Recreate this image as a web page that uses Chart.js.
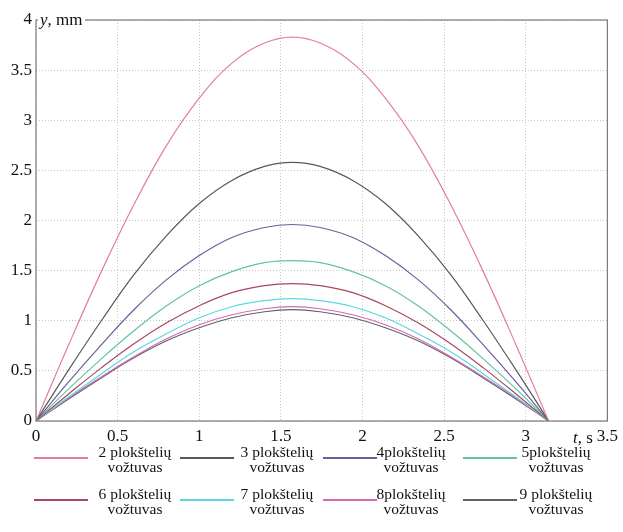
<!DOCTYPE html>
<html>
<head>
<meta charset="utf-8">
<script src="https://cdn.jsdelivr.net/npm/chart.js@4.4.1/dist/chart.umd.min.js"></script>
<style>
html,body{margin:0;padding:0;background:#fff;}
#wrap{position:relative;width:623px;height:532px;font-family:'Liberation Serif','Times New Roman',serif;color:#111;}
canvas{position:absolute;left:0;top:0;}
.lab{position:absolute;white-space:nowrap;font-size:17px;line-height:17px;}
.leg-line{position:absolute;height:2px;}
.leg-text{position:absolute;font-size:15.5px;line-height:15px;text-align:center;width:100px;}
</style>
</head>
<body>
<div id="wrap">
<canvas id="c" width="623" height="532"></canvas>
</div>
<script>
// time points (s)
const tValues = [0, 0.2, 0.4, 0.6, 0.8, 1.0, 1.2, 1.4, 1.57, 1.74, 1.94, 2.14, 2.34, 2.54, 2.74, 2.94, 3.14];
// displacement y (mm)
const y2 = [0, 0.76, 1.49, 2.16, 2.75, 3.22, 3.57, 3.77, 3.83, 3.77, 3.57, 3.22, 2.75, 2.16, 1.49, 0.76, 0];
const y3 = [0, 0.51, 1.00, 1.46, 1.85, 2.17, 2.40, 2.54, 2.58, 2.54, 2.40, 2.17, 1.85, 1.46, 1.00, 0.51, 0];
const y4 = [0, 0.39, 0.76, 1.11, 1.41, 1.65, 1.83, 1.93, 1.96, 1.93, 1.83, 1.65, 1.41, 1.11, 0.76, 0.39, 0];
const y5 = [0, 0.32, 0.62, 0.90, 1.15, 1.35, 1.49, 1.58, 1.60, 1.58, 1.49, 1.35, 1.15, 0.90, 0.62, 0.32, 0];
const y6 = [0, 0.27, 0.53, 0.77, 0.98, 1.15, 1.28, 1.35, 1.37, 1.35, 1.28, 1.15, 0.98, 0.77, 0.53, 0.27, 0];
const y7 = [0, 0.24, 0.47, 0.69, 0.87, 1.03, 1.14, 1.20, 1.22, 1.20, 1.14, 1.03, 0.87, 0.69, 0.47, 0.24, 0];
const y8 = [0, 0.23, 0.44, 0.64, 0.82, 0.96, 1.06, 1.12, 1.14, 1.12, 1.06, 0.96, 0.82, 0.64, 0.44, 0.23, 0];
const y9 = [0, 0.22, 0.43, 0.63, 0.80, 0.93, 1.03, 1.09, 1.11, 1.09, 1.03, 0.93, 0.80, 0.63, 0.43, 0.22, 0];
const seriesNames = ['2 plokštelių', '3 plokštelių', '4plokštelių', '5plokštelių', '6 plokštelių', '7 plokštelių', '8plokštelių', '9 plokštelių'];
const seriesSub = 'vožtuvas';
const seriesValues = [y2, y3, y4, y5, y6, y7, y8, y9];
const xTicks = [0, 0.5, 1, 1.5, 2, 2.5, 3, 3.5];
const yTicks = [0, 0.5, 1, 1.5, 2, 2.5, 3, 3.5, 4];
const xTitle = 't, s';
const yTitle = 'y, mm';

const colors = ['#e47ca4', '#58585c', '#66629a', '#64c2a2', '#a8485f', '#5ad6e4', '#d46ab8', '#606364'];

const datasets = seriesValues.map((vals, i) => ({
  label: seriesNames[i] + ' ' + seriesSub,
  data: vals.map((v, j) => ({x: tValues[j], y: v})),
  borderColor: colors[i],
  backgroundColor: colors[i],
  borderWidth: 1.2,
  pointRadius: 0,
  tension: 0.4,
  fill: false
}));

const frame = {
  id: 'frame',
  afterDraw(chart) {
    const {ctx, chartArea: a} = chart;
    ctx.save();
    ctx.strokeStyle = '#7a7a7a';
    ctx.lineWidth = 1.2;
    ctx.strokeRect(a.left, a.top, a.right - a.left, a.bottom - a.top);
    ctx.restore();
  }
};

const font = {family: "'Liberation Serif','Times New Roman',serif", size: 17};
const fmt = v => String(v);

new Chart(document.getElementById('c'), {
  type: 'line',
  data: {datasets},
  options: {
    responsive: false,
    animation: false,
    layout: {padding: {top: 20, right: 14, left: 0, bottom: 0}},
    plugins: {legend: {display: false}, tooltip: {enabled: false}},
    scales: {
      x: {
        type: 'linear', min: 0, max: 3.5,
        afterBuildTicks: s => { s.ticks = xTicks.map(v => ({value: v})); },
        afterFit: s => { s.height = 111; },
        grid: {color: '#c4c4c4', drawTicks: false, lineWidth: 1},
        border: {display: false, dash: [1, 2]},
        ticks: {color: '#111', font, padding: 5, maxRotation: 0, autoSkip: false, callback: fmt}
      },
      y: {
        type: 'linear', min: 0, max: 4,
        afterBuildTicks: s => { s.ticks = yTicks.map(v => ({value: v})); },
        afterFit: s => { s.width = 36; },
        grid: {color: '#c4c4c4', drawTicks: false, lineWidth: 1},
        border: {display: false, dash: [1, 2]},
        ticks: {color: '#111', font, padding: 4, autoSkip: false, callback: fmt}
      }
    }
  },
  plugins: [frame]
});

// axis titles and legend (HTML text)
const wrap = document.getElementById('wrap');
function addLab(html, left, top, extra) {
  const d = document.createElement('div');
  d.className = 'lab';
  d.innerHTML = html;
  d.style.left = left + 'px';
  d.style.top = top + 'px';
  if (extra) Object.assign(d.style, extra);
  wrap.appendChild(d);
}
addLab('<i>y</i>, mm', 38, 11, {background: '#fff', padding: '0 2px 0 2px'});
addLab('<i>t</i>, s', 573, 429, {background: '#fff'});

const colLine = [34, 180, 323, 463];
const colText = [135, 277, 411, 556];
const rowY = [458, 500];
seriesNames.forEach((name, i) => {
  const r = Math.floor(i / 4), c = i % 4;
  const ln = document.createElement('div');
  ln.className = 'leg-line';
  ln.style.left = colLine[c] + 'px';
  ln.style.top = (rowY[r] - 1) + 'px';
  ln.style.width = '54px';
  ln.style.background = colors[i];
  wrap.appendChild(ln);
  const tx = document.createElement('div');
  tx.className = 'leg-text';
  tx.style.left = (colText[c] - 50) + 'px';
  tx.style.top = (rowY[r] - 14) + 'px';
  tx.innerHTML = name + '<br>' + seriesSub;
  wrap.appendChild(tx);
});
</script>
</body>
</html>
